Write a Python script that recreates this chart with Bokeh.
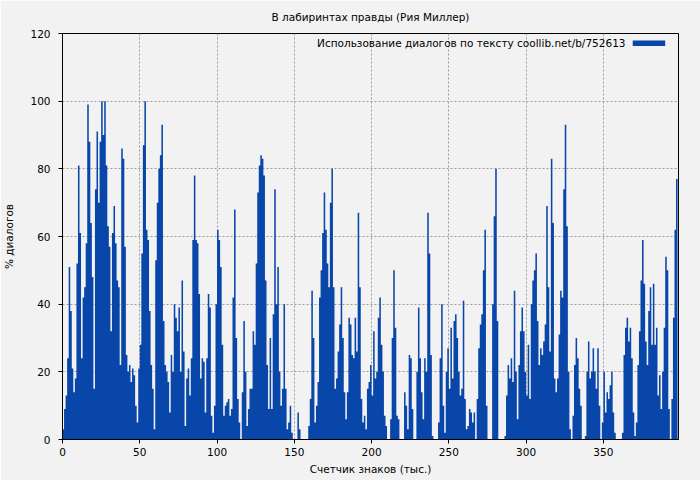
from bokeh.plotting import figure
from bokeh.models import Range1d, Label, BoxAnnotation, FixedTicker
from bokeh.embed import file_html
from bokeh.resources import INLINE

# share of dialogue (%) per thousand characters of text
values = [
    3, 9, 13, 24, 51, 38, 21, 14, 18, 52, 81, 61, 24, 42, 45, 58, 99, 88, 64, 48,
    15, 74, 91, 70, 88, 100, 90, 100, 81, 63, 57, 32, 61, 69, 58, 47, 45, 22, 86, 83,
    57, 25, 20, 22, 17, 21, 19, 10, 5, 21, 28, 55, 87, 100, 62, 59, 38, 22, 15, 3,
    53, 70, 80, 84, 93, 35, 22, 20, 17, 8, 25, 20, 40, 36, 32, 39, 20, 47, 26, 4,
    18, 21, 13, 24, 59, 78, 59, 58, 43, 18, 24, 23, 8, 24, 43, 39, 7, 2, 10, 40,
    62, 59, 51, 28, 7, 10, 11, 12, 7, 9, 42, 68, 30, 12, 5, 0, 14, 35, 20, 4,
    9, 15, 15, 32, 28, 52, 73, 81, 84, 83, 78, 47, 22, 9, 30, 9, 37, 74, 40, 51,
    20, 10, 15, 40, 15, 3, 5, 10, 2, 0, 0, 0, 8, 3, 0, 0, 0, 0, 0, 4,
    12, 44, 30, 5, 10, 17, 42, 50, 61, 73, 62, 52, 45, 70, 80, 45, 15, 18, 26, 34,
    45, 30, 14, 6, 14, 36, 34, 25, 24, 36, 26, 67, 45, 12, 5, 7, 3, 15, 17, 22,
    13, 32, 18, 20, 36, 42, 28, 20, 7, 4, 0, 0, 6, 30, 50, 33, 7, 6, 0, 0,
    0, 14, 10, 3, 25, 24, 9, 0, 0, 20, 39, 24, 14, 6, 24, 20, 67, 55, 25, 1,
    0, 0, 0, 5, 24, 40, 10, 2, 20, 27, 15, 33, 18, 35, 37, 30, 20, 13, 15, 41,
    12, 3, 4, 9, 8, 5, 8, 0, 12, 27, 34, 37, 50, 62, 10, 0, 0, 0, 40, 66,
    80, 35, 0, 0, 0, 0, 1, 13, 22, 18, 24, 17, 44, 20, 6, 22, 32, 39, 32, 20,
    13, 28, 12, 40, 47, 50, 55, 35, 22, 27, 25, 29, 34, 69, 45, 26, 83, 64, 18, 14,
    18, 31, 44, 42, 74, 93, 63, 20, 3, 0, 7, 22, 30, 24, 15, 10, 0, 0, 1, 20,
    29, 18, 20, 27, 20, 15, 27, 10, 0, 5, 20, 8, 14, 12, 16, 20, 8, 2, 0, 0,
    0, 0, 2, 25, 33, 36, 29, 33, 24, 8, 1, 5, 22, 32, 47, 59, 46, 29, 22, 38,
    45, 28, 46, 28, 33, 13, 19, 9, 20, 33, 54, 50, 9, 0, 12, 36, 62, 77,
]
# left edge of each one-thousand-character bin, plus the closing edge
x_edges = list(range(len(values) + 1))
y_steps = values + [values[-1]]

x_ticks = [0, 50, 100, 150, 200, 250, 300, 350]
y_ticks = [0, 20, 40, 60, 80, 100, 120]

title_text = "В лабиринтах правды (Рия Миллер)"
legend_text = "Использование диалогов по тексту coollib.net/b/752613"
x_label = "Счетчик знаков (тыс.)"
y_label = "% диалогов"

BLUE = "#0846aa"
BG = "#f2f2f2"
FONT = "DejaVu Sans"
FS = "10.5px"

p = figure(width=700, height=480, output_backend="svg", toolbar_location=None,
           x_range=Range1d(0, 398.6), y_range=Range1d(0, 120),
           min_border_left=61, min_border_right=22, min_border_top=33,
           min_border_bottom=41,
           background_fill_color=BG, border_fill_color=BG)

p.title.text = title_text
p.title.align = "center"
p.title.vertical_align = "top"
p.title.text_font = FONT
p.title.text_font_size = FS
p.title.text_font_style = "normal"
p.title.text_color = "black"
p.title.standoff = 17

# bars drawn as one stepped area so adjacent bars have no seams
p.varea_step(x=x_edges, y1=[0] * len(y_steps), y2=y_steps, step_mode="after",
             fill_color=BLUE)

for ax in (p.xaxis[0], p.yaxis[0]):
    ax.axis_line_color = "black"
    ax.major_tick_line_color = "black"
    ax.minor_tick_line_color = None
    ax.major_tick_out = 4
    ax.major_tick_in = 0
    ax.major_label_text_font = FONT
    ax.major_label_text_font_size = FS
    ax.major_label_text_color = "black"
    ax.axis_label_text_font = FONT
    ax.axis_label_text_font_size = FS
    ax.axis_label_text_font_style = "normal"
    ax.axis_label_text_color = "black"

p.xaxis.ticker = FixedTicker(ticks=x_ticks)
p.yaxis.ticker = FixedTicker(ticks=y_ticks)
p.xaxis.axis_label = x_label
p.yaxis.axis_label = y_label
p.xaxis.major_label_standoff = 4
p.xaxis.axis_label_standoff = 4
p.yaxis.major_label_standoff = 8
p.yaxis.axis_label_standoff = 12

for g in (p.xgrid[0], p.ygrid[0]):
    g.grid_line_color = "#9a9a9a"
    g.grid_line_dash = "2 2"
    g.grid_line_width = 1

p.outline_line_color = "black"
p.outline_line_alpha = 1
p.outline_line_width = 1

p.add_layout(Label(x=364.3, y=117.3, text=legend_text, text_align="right",
                   text_baseline="middle", text_font=FONT,
                   text_font_size=FS, text_color="black"))
p.add_layout(BoxAnnotation(left=369, right=390, bottom=116.3, top=117.9,
                           fill_color=BLUE, fill_alpha=1, line_alpha=0))

open("out.html", "w").write(file_html(p, INLINE))
